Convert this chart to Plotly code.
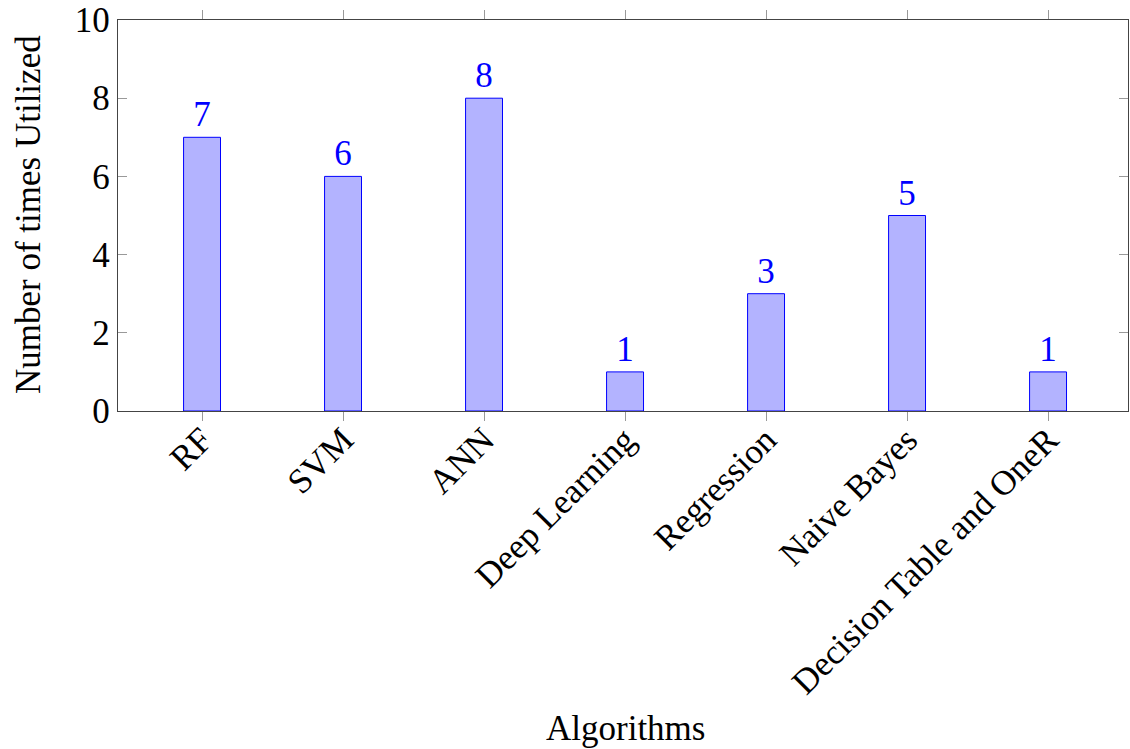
import plotly.graph_objects as go

categories = ["RF", "SVM", "ANN", "Deep Learning", "Regression", "Naive Bayes", "Decision Table and OneR"]
values = [7, 6, 8, 1, 3, 5, 1]
y_ticks = [0, 2, 4, 6, 8, 10]

FONT = "Liberation Serif"
FS = 35
W, H = 1130, 749
# target plot area in screenshot pixels: x 118..1128, y 20..411
L, T = 118, 20
R = W - 1128
B = H - 411

fig = go.Figure()
fig.add_trace(go.Bar(
    x=list(range(len(categories))), y=values,
    width=0.262,
    marker=dict(color="rgb(179,179,255)", line=dict(color="blue", width=1)),
    text=[str(v) for v in values], textposition="outside",
    textfont=dict(color="blue", size=FS, family=FONT),
    cliponaxis=False,
))

pw = W - L - R
ph = H - T - B

fig.update_layout(
    width=W, height=H,
    margin=dict(l=L, r=R, t=T, b=B),
    plot_bgcolor="white", paper_bgcolor="white",
    showlegend=False,
    font=dict(family=FONT, size=FS, color="black"),
    xaxis=dict(
        range=[-0.596, 6.567], tickmode="array",
        tickvals=list(range(len(categories))), ticktext=categories,
        tickangle=-45, ticks="outside", ticklen=9, tickcolor="#999",
        ticklabelstandoff=-16, ticklabeloverflow="allow",
        showline=True, linecolor="#444", linewidth=1.3, mirror="ticks",
        showgrid=False, zeroline=False, automargin=False,
        tickfont=dict(size=FS, family=FONT),
    ),
    yaxis=dict(
        range=[0, 10], tickmode="array", tickvals=y_ticks,
        ticks="inside", ticklen=9, tickcolor="#999",
        ticklabeloverflow="allow",
        showline=True, linecolor="#444", linewidth=1.3, mirror="ticks",
        showgrid=False, zeroline=False, automargin=False,
        tickfont=dict(size=FS, family=FONT),
    ),
    annotations=[
        dict(text="Algorithms", xref="paper", yref="paper",
             x=(625 - L) / pw, y=(H - B - 728) / ph,
             xanchor="center", yanchor="middle",
             showarrow=False, font=dict(size=FS, family=FONT)),
        dict(text="Number of times Utilized", textangle=-90, xref="paper", yref="paper",
             x=(28 - L) / pw, y=(H - B - 215) / ph,
             xanchor="center", yanchor="middle",
             showarrow=False, font=dict(size=FS, family=FONT)),
    ],
)

fig.write_html("out.html", config={"displayModeBar": False},
               post_script="document.body.style.margin='0';")
